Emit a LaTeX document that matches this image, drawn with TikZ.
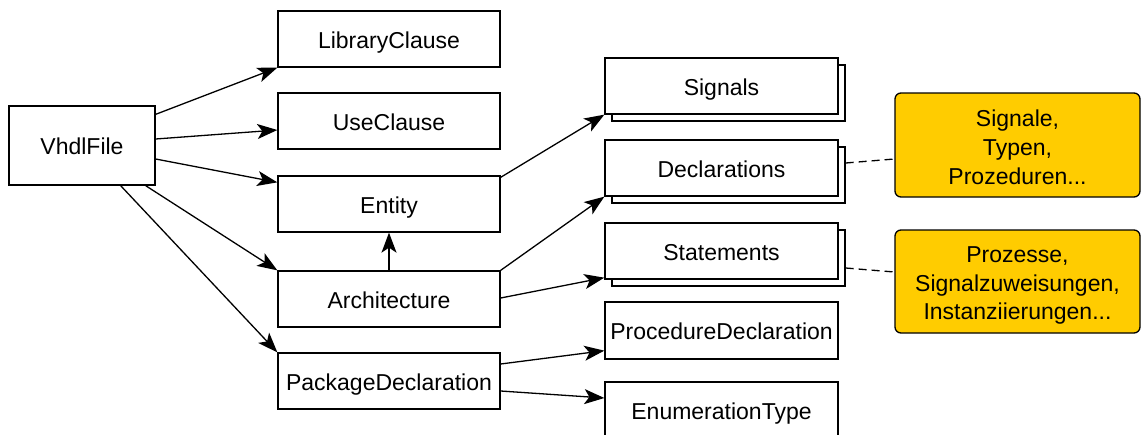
\documentclass[tikz,border=0pt]{standalone}
\usepackage{fontspec}
\setmainfont{Liberation Sans}
\usetikzlibrary{arrows.meta}
\begin{document}
\begin{tikzpicture}[x=1pt,y=-1pt,
  box/.style={draw=black, fill=white, line width=1.3pt, inner sep=0pt,
    minimum width=222pt, minimum height=56pt, align=center,
    text height=20pt, text depth=2pt,
    font=\fontsize{23}{28.75}\selectfont},
  wide/.style={box, minimum width=233pt},
  note/.style={box, fill=noteyellow, rounded corners=6pt, minimum width=245pt,
    text height=, text depth=},
  arr/.style={line width=1.3pt, -{Stealth[length=20pt,width=15pt,inset=5pt]}},
  link/.style={line width=1.3pt, dash pattern=on 8pt off 5pt}]
\definecolor{noteyellow}{HTML}{FFCC00}
\useasboundingbox (0,0) rectangle (1141,434);

% left column
\node[box, minimum width=146pt, minimum height=79pt] (vhdl) at (82,145.5) {VhdlFile};
\node[box] (lib)  at (389,39)  {LibraryClause};
\node[box] (use)  at (389,121) {UseClause};
\node[box] (ent)  at (389,204) {Entity};
\node[box] (arch) at (389,299) {Architecture};
\node[box] (pkg)  at (389,381) {PackageDeclaration};

% stacked (multiple) boxes: back copy first, then the front one
\node[wide] (sigB)  at (728.5,93)  {};
\node[wide] (sig)   at (721.5,86)  {Signals};
\node[wide] (declB) at (728.5,175) {};
\node[wide] (decl)  at (721.5,168) {Declarations};
\node[wide] (statB) at (728.5,258) {};
\node[wide] (stat)  at (721.5,251) {Statements};

\node[wide, minimum height=57pt] (proc) at (721.5,330.5) {ProcedureDeclaration};
\node[wide] (enum) at (721.5,410) {EnumerationType};

% notes (the struts push the text block slightly down)
\node[note, minimum height=104pt] (n1) at (1017.5,145) {\rule{0pt}{21pt}Signale,\\Typen,\\Prozeduren...};
\node[note, minimum height=103pt] (n2) at (1017.5,281.5) {\rule{0pt}{24pt}Prozesse,\\Signalzuweisungen,\\Instanziierungen...};

% connectors
\draw[arr] ([yshift=-9pt]vhdl.north east) -- (lib.south west);
\draw[arr] ([yshift=6.5pt]vhdl.east) -- ([yshift=-9pt]use.west);
\draw[arr] ([yshift=-13.5pt]vhdl.east) -- ([yshift=-7pt]ent.north west);
\draw[arr] ([xshift=-10pt]vhdl.south east) -- (arch.north west);
\draw[arr] ([xshift=-35pt]vhdl.south east) -- (pkg.north west);
\draw[arr] (arch.north) -- (ent.south);
\draw[arr] ([yshift=-2pt]ent.north east) -- (sig.south west);
\draw[arr] (arch.north east) -- (decl.south west);
\draw[arr] ([yshift=1pt]arch.east) -- ([yshift=2pt]stat.south west);
\draw[arr] ([yshift=17pt]pkg.east) -- ([yshift=9pt]proc.south west);
\draw[arr] ([yshift=-10pt]pkg.east) -- ([yshift=12pt]enum.west);

\draw[link] ([yshift=12pt]declB.east) -- ([yshift=-14pt]n1.west);
\draw[link] ([yshift=-10pt]statB.east) -- ([yshift=9.5pt]n2.west);
\end{tikzpicture}
\end{document}
